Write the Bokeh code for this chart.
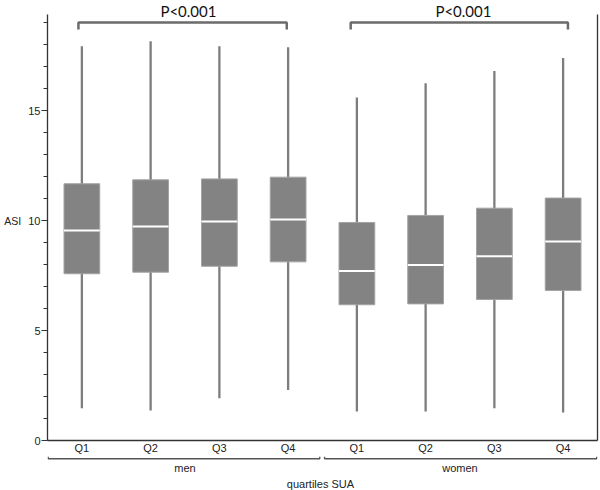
from bokeh.plotting import figure
from bokeh.models import Range1d, SingleIntervalTicker, FixedTicker, LinearAxis, ColumnDataSource
from bokeh.layouts import column
from bokeh.core.properties import value
from bokeh.embed import file_html
from bokeh.resources import INLINE

# ---------------- data ----------------
groups = ["men", "women"]
quartiles = ["Q1", "Q2", "Q3", "Q4"]
p_labels = ["P<0.001", "P<0.001"]
y_label = "ASI"
x_label = "quartiles SUA"

men_low = [1.47, 1.36, 1.92, 2.30]
men_q1 = [7.58, 7.65, 7.92, 8.12]
men_median = [9.55, 9.73, 9.95, 10.05]
men_q3 = [11.67, 11.85, 11.89, 11.97]
men_high = [17.92, 18.15, 17.92, 17.88]

women_low = [1.32, 1.32, 1.47, 1.27]
women_q1 = [6.17, 6.21, 6.41, 6.82]
women_median = [7.70, 7.98, 8.38, 9.05]
women_q3 = [9.91, 10.23, 10.56, 11.02]
women_high = [15.59, 16.24, 16.80, 17.39]

# ---------------- build source ----------------
xs = list(range(1, 1 + len(groups) * len(quartiles)))
labels = quartiles * len(groups)
BW = 0.52
src = ColumnDataSource(dict(
    x=xs,
    low=men_low + women_low,
    q1=men_q1 + women_q1,
    med=men_median + women_median,
    q3=men_q3 + women_q3,
    high=men_high + women_high,
    xl=[x - BW / 2 for x in xs],
    xr=[x + BW / 2 for x in xs],
))

FONT = "Liberation Sans"
AX = "#333333"
W = 600

p = figure(width=W, height=456, x_range=Range1d(0.5, 8.5), y_range=Range1d(0, 20.0),
           output_backend="svg", toolbar_location=None,
           min_border_left=47, min_border_right=3, min_border_top=0, min_border_bottom=16)
p.grid.visible = False
p.outline_line_color = None

# whiskers
p.segment(x0="x", y0="low", x1="x", y1="high", source=src, line_color="#7d7d7d", line_width=2.3)
# boxes
p.vbar(x="x", width=BW, bottom="q1", top="q3", source=src,
       fill_color="#838383", line_color="#a3a3a3", line_width=1)
# medians
p.segment(x0="xl", y0="med", x1="xr", y1="med", source=src, line_color="white", line_width=2)

# significance brackets on top
p.multi_line(xs=[[0.95, 0.95, 3.98, 3.98], [4.91, 4.91, 8.07, 8.07]],
             ys=[[18.68, 19.0, 19.0, 18.68], [18.68, 19.0, 19.0, 18.68]],
             line_color="#6b6b6b", line_width=2.5)
p.text(x=[2.55, 6.55], y=[19.545, 19.545], text=p_labels, text_align="center",
       text_baseline="alphabetic", text_font=value("Lato"), text_font_size="15px",
       text_color="#111111")

# y axis
yax = p.yaxis[0]
yax.ticker = SingleIntervalTicker(interval=5, num_minor_ticks=5)
yax.bounds = (0, 19.36)
yax.axis_label = y_label
yax.axis_label_orientation = "horizontal"
yax.axis_label_standoff = 4
yax.axis_label_text_font = FONT
yax.axis_label_text_font_size = "10.5px"
yax.axis_label_text_font_style = "normal"
yax.axis_label_text_color = "#222222"
yax.major_label_text_font = FONT
yax.major_label_text_font_size = "11px"
yax.major_label_text_color = "#222222"
yax.major_label_standoff = 1
yax.major_tick_out = 6
yax.major_tick_in = 0
yax.minor_tick_out = 4
yax.minor_tick_in = 0
yax.axis_line_color = AX
yax.axis_line_width = 1.3
yax.major_tick_line_color = AX
yax.minor_tick_line_color = AX

# x axis
xax = p.xaxis[0]
xax.ticker = FixedTicker(ticks=xs)
xax.major_label_overrides = {x: l for x, l in zip(xs, labels)}
xax.major_tick_out = 0
xax.major_tick_in = 0
xax.minor_tick_line_color = None
xax.major_tick_line_color = None
xax.major_label_standoff = 1
xax.major_label_text_font = FONT
xax.major_label_text_font_size = "11px"
xax.major_label_text_color = "#222222"
xax.axis_line_color = AX
xax.axis_line_width = 1.3

# right frame line
rax = LinearAxis(ticker=FixedTicker(ticks=[]), bounds=(0, 19.36))
rax.major_tick_out = 0
rax.major_tick_in = 0
rax.minor_tick_out = 0
rax.minor_tick_in = 0
rax.major_label_standoff = 0
rax.major_label_text_font_size = "0px"
rax.axis_line_color = AX
rax.axis_line_width = 1.3
p.add_layout(rax, "right")

# ---------------- bottom group brackets ----------------
p2 = figure(width=W, height=34, x_range=p.x_range, y_range=Range1d(0, 34),
            output_backend="svg", toolbar_location=None,
            x_axis_location=None, y_axis_location=None,
            min_border_left=47, min_border_right=3, min_border_top=0, min_border_bottom=0)
p2.grid.visible = False
p2.outline_line_color = None
p2.multi_line(xs=[[0.51, 0.51, 4.46, 4.46], [4.53, 4.53, 8.49, 8.49]],
              ys=[[34, 31.7, 31.7, 34], [34, 31.7, 31.7, 34]],
              line_color="#555555", line_width=1.4)
p2.text(x=[2.5, 6.5], y=[23, 23], text=groups, text_align="center", text_baseline="middle",
        text_font=value(FONT), text_font_size="11px", text_color="#222222")
p2.text(x=[4.47], y=[7], text=[x_label], text_align="center", text_baseline="middle",
        text_font=value(FONT), text_font_size="11px", text_color="#222222")

layout = column(p, p2)
open("out.html", "w").write(file_html(layout, INLINE))
